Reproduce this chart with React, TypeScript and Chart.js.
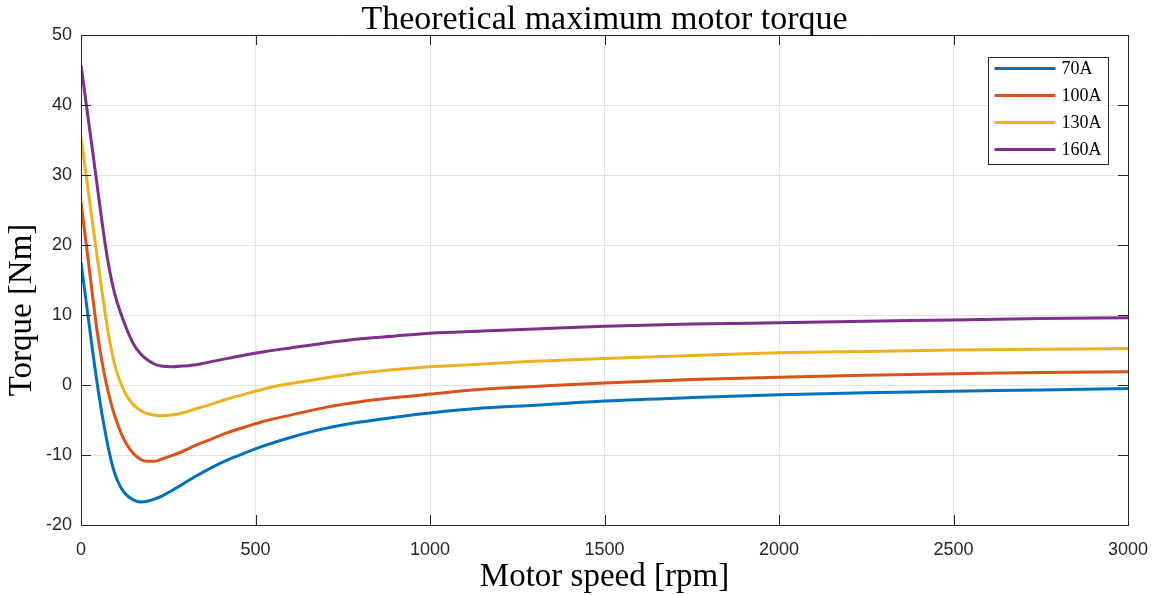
import React, { useEffect, useRef } from "react";
import { Chart, registerables } from "chart.js";

Chart.register(...registerables);

const speedRpm = [0, 10, 20, 30, 40, 50, 60, 70, 80, 90, 100, 115, 130, 150, 170, 190, 210, 230, 260, 290, 330, 370, 420, 470, 530, 600, 700, 800, 900, 1000, 1150, 1300, 1500, 1750, 2000, 2250, 2500, 2750, 3000];

const torque70A = [17.5, 13.7, 9.9, 6.1, 2.4, -1.0, -4.1, -6.9, -9.4, -11.5, -13.1, -14.7, -15.7, -16.4, -16.7, -16.6, -16.3, -15.9, -15.1, -14.2, -13.0, -11.9, -10.7, -9.7, -8.6, -7.5, -6.2, -5.3, -4.6, -4.0, -3.3, -2.9, -2.3, -1.8, -1.4, -1.1, -0.9, -0.7, -0.5];
const torque100A = [26.1, 22.1, 18.1, 14.0, 10.0, 6.4, 3.4, 0.8, -1.4, -3.3, -4.9, -6.9, -8.4, -9.8, -10.6, -10.9, -10.9, -10.6, -10.1, -9.5, -8.6, -7.8, -6.8, -6.0, -5.1, -4.3, -3.2, -2.4, -1.8, -1.3, -0.6, -0.2, 0.3, 0.8, 1.1, 1.4, 1.6, 1.8, 1.9];
const torque130A = [35.4, 31.7, 28.0, 24.3, 20.6, 17.0, 13.4, 10.0, 6.9, 4.3, 2.3, 0.1, -1.5, -2.8, -3.6, -4.1, -4.3, -4.4, -4.3, -4.0, -3.4, -2.8, -2.0, -1.3, -0.5, 0.2, 1.0, 1.7, 2.2, 2.6, 3.0, 3.4, 3.8, 4.2, 4.6, 4.8, 5.0, 5.1, 5.2];
const torque160A = [45.7, 42.0, 38.3, 34.6, 30.9, 27.1, 23.4, 19.9, 16.9, 14.4, 12.4, 10.1, 8.1, 5.9, 4.5, 3.6, 3.0, 2.7, 2.6, 2.7, 2.9, 3.3, 3.8, 4.3, 4.8, 5.3, 6.0, 6.6, 7.0, 7.4, 7.7, 8.0, 8.4, 8.7, 8.9, 9.1, 9.3, 9.5, 9.6];

const seriesLabels = ["70A", "100A", "130A", "160A"];
const seriesValues = [torque70A, torque100A, torque130A, torque160A];
const seriesColors = ["#0072BD", "#D95319", "#EDB120", "#7E2F8E"];

const titleText = "Theoretical maximum motor torque";
const xTitle = "Motor speed [rpm]";
const yTitle = "Torque [Nm]";

const AXIS = "#262626";

const framePlugin = {
  id: "matlabFrame",
  afterDatasetsDraw(chart: any) {
    const { ctx, chartArea } = chart;
    const { left, right, top, bottom } = chartArea;
    const xs = chart.scales.x;
    const ys = chart.scales.y;
    const tl = 10;
    ctx.save();
    ctx.strokeStyle = AXIS;
    ctx.lineWidth = 1;
    ctx.beginPath();
    ctx.rect(Math.round(left) + 0.5, Math.round(top) + 0.5, Math.round(right - left), Math.round(bottom - top));
    ctx.stroke();
    ctx.beginPath();
    xs.ticks.forEach((t: any) => {
      const px = Math.round(xs.getPixelForValue(t.value)) + 0.5;
      ctx.moveTo(px, bottom);
      ctx.lineTo(px, bottom - tl);
      ctx.moveTo(px, top);
      ctx.lineTo(px, top + tl);
    });
    ys.ticks.forEach((t: any) => {
      const py = Math.round(ys.getPixelForValue(t.value)) + 0.5;
      ctx.moveTo(left, py);
      ctx.lineTo(left + tl, py);
      ctx.moveTo(right, py);
      ctx.lineTo(right - tl, py);
    });
    ctx.stroke();
    ctx.restore();
  },
  afterDraw(chart: any) {
    const { ctx, chartArea } = chart;
    ctx.save();
    ctx.fillStyle = "#000000";
    ctx.font = "34px 'Liberation Serif'";
    ctx.textAlign = "center";
    ctx.textBaseline = "alphabetic";
    ctx.fillText(titleText, (chartArea.left + chartArea.right) / 2, chartArea.top - 6);

    // y-axis label
    ctx.save();
    ctx.font = "33px 'Liberation Serif'";
    ctx.textBaseline = "middle";
    ctx.translate(22, (chartArea.top + chartArea.bottom) / 2 + 30);
    ctx.rotate(-Math.PI / 2);
    ctx.fillText(yTitle, 0, 0);
    ctx.restore();

    const w = 120;
    const h = 107;
    const bx = Math.round(chartArea.right - 20 - w) + 0.5;
    const by = Math.round(chartArea.top + 22) + 0.5;
    ctx.fillStyle = "#ffffff";
    ctx.fillRect(bx, by, w, h);
    ctx.strokeStyle = AXIS;
    ctx.lineWidth = 1;
    ctx.strokeRect(bx, by, w, h);
    ctx.font = "18px 'Liberation Serif'";
    ctx.textBaseline = "middle";
    ctx.textAlign = "left";
    chart.data.datasets.forEach((ds: any, i: number) => {
      const ry = by + 11 + i * 27;
      ctx.strokeStyle = ds.borderColor;
      ctx.lineWidth = 3;
      ctx.beginPath();
      ctx.moveTo(bx + 6, ry);
      ctx.lineTo(bx + 67, ry);
      ctx.stroke();
      ctx.fillStyle = "#000000";
      ctx.fillText(ds.label, bx + 73, ry + 1);
    });
    ctx.restore();
  },
};

export default function App() {
  const ref = useRef<HTMLCanvasElement>(null);
  useEffect(() => {
    const canvas = ref.current!;
    const chart = new Chart(canvas, {
      type: "line",
      data: {
        datasets: seriesLabels.map((label, i) => ({
          label,
          data: speedRpm.map((x, j) => ({ x, y: seriesValues[i][j] })),
          borderColor: seriesColors[i],
          backgroundColor: seriesColors[i],
          borderWidth: 3,
          pointRadius: 0,
          fill: false,
          cubicInterpolationMode: "monotone" as const,
        })),
      },
      options: {
        responsive: false,
        animation: false,
        devicePixelRatio: 1,
        layout: { padding: { left: 0, right: 31, top: 35, bottom: 0 } },
        plugins: {
          legend: { display: false },
          tooltip: { enabled: false },
          title: { display: false },
        },
        scales: {
          x: {
            type: "linear",
            min: 0,
            max: 3000,
            ticks: {
              stepSize: 500,
              color: AXIS,
              font: { family: "'Liberation Sans'", size: 18 },
              padding: 14,
              maxRotation: 0,
              callback: (v: any) => String(v),
            },
            grid: { color: "#e4e4e4", drawTicks: false },
            border: { color: AXIS },
            title: {
              display: true,
              text: xTitle,
              color: "#000000",
              font: { family: "'Liberation Serif'", size: 33, weight: "normal", lineHeight: 1.1 },
              padding: { top: 0, bottom: 0 },
            },
            afterFit: (s: any) => {
              s.height = 70;
              s.paddingLeft = 0;
              s.paddingRight = 0;
            },
          },
          y: {
            type: "linear",
            min: -20,
            max: 50,
            ticks: {
              stepSize: 10,
              color: AXIS,
              font: { family: "'Liberation Sans'", size: 18 },
              padding: 9,
              callback: (v: any) => String(v),
            },
            grid: { color: "#e4e4e4", drawTicks: false },
            border: { color: AXIS },
            title: { display: false },
            afterFit: (s: any) => {
              s.width = 81;
              s.paddingTop = 0;
              s.paddingBottom = 0;
            },
          },
        },
      },
      plugins: [framePlugin],
    });
    return () => chart.destroy();
  }, []);
  return (
    <div style={{ position: "fixed", left: 0, top: 0, width: 1159, height: 595, background: "#ffffff" }}>
      <canvas ref={ref} width={1159} height={595} />
    </div>
  );
}
